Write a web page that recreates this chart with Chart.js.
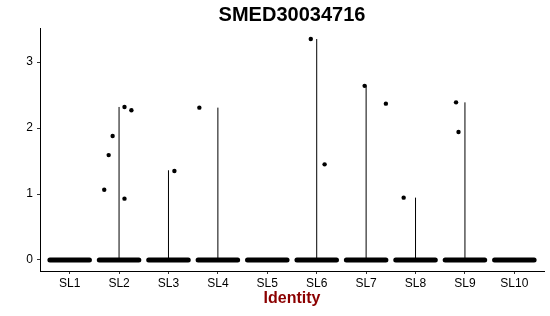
<!DOCTYPE html>
<html>
<head>
<meta charset="utf-8">
<script src="https://cdn.jsdelivr.net/npm/chart.js@4.4.1/dist/chart.umd.min.js"></script>
<style>
  html, body { margin: 0; padding: 0; background: #fff; }
  #wrap { width: 550px; height: 316px; }
</style>
</head>
<body>
<div id="wrap"><canvas id="vln"></canvas></div>
<script>
// Identity groups on the x axis
const identities = ['SL1', 'SL2', 'SL3', 'SL4', 'SL5', 'SL6', 'SL7', 'SL8', 'SL9', 'SL10'];
// Max expression per group (top of each collapsed violin)
const violinMax = [0, 2.32, 1.36, 2.31, 0, 3.35, 2.64, 0.945, 2.39, 0];
// Non-zero cells: group index (1-based), jitter offset, expression
const cellGroup  = [2, 2, 2, 2, 2, 2, 3, 4, 6, 6, 7, 7, 8, 9, 9];
const cellJitter = [-0.30, -0.21, -0.13, 0.11, 0.25, 0.11, 0.12, -0.375, -0.12, 0.16, -0.03, 0.40, -0.24, -0.18, -0.13];
const cellValue  = [1.065, 1.59, 1.88, 2.32, 2.27, 0.93, 1.35, 2.31, 3.35, 1.45, 2.64, 2.37, 0.945, 2.39, 1.94];
const yTicks = [0, 1, 2, 3];

const jitterWidth = 0.4;

const datasets = [];

// violins (with all mass at zero they collapse to a thin vertical line)
violinMax.forEach((m, i) => {
    if (m <= 0) return;
    datasets.push({
        type: 'line',
        data: [{x: i + 1, y: 0}, {x: i + 1, y: m}],
        borderColor: '#000',
        borderWidth: 1,
        pointRadius: 0,
        order: 3
    });
});

// the dense band of zero-valued cells
identities.forEach((name, i) => {
    datasets.push({
        type: 'line',
        data: [{x: i + 1 - jitterWidth, y: 0}, {x: i + 1 + jitterWidth, y: 0}],
        borderColor: '#000',
        borderWidth: 5,
        borderCapStyle: 'round',
        pointRadius: 0,
        order: 2
    });
});

// jittered non-zero cells
datasets.push({
    type: 'scatter',
    data: cellValue.map((v, k) => ({x: cellGroup[k] + cellJitter[k], y: v})),
    backgroundColor: '#000',
    borderWidth: 0,
    pointRadius: 2.2,
    order: 1
});

const ctx = document.getElementById('vln').getContext('2d');
const vlnChart = new Chart(ctx, {
    data: { datasets: datasets },
    options: {
        responsive: true,
        maintainAspectRatio: false,
        animation: false,
        layout: { padding: { left: 0, right: 6, top: 0, bottom: 0 } },
        plugins: {
            legend: { display: false },
            tooltip: { enabled: false },
            title: {
                display: true,
                text: 'SMED30034716',
                fullSize: false,
                color: '#000',
                font: { family: 'Liberation Sans, Arial, sans-serif', size: 20, weight: 'bold' },
                padding: { top: 3, bottom: 1 }
            }
        },
        scales: {
            x: {
                type: 'linear',
                min: 0.4,
                max: 10.6,
                afterBuildTicks: scale => {
                    scale.ticks = identities.map((n, i) => ({value: i + 1}));
                },
                afterFit: scale => { scale.height = 45; },
                ticks: {
                    color: '#000',
                    padding: 2,
                    maxRotation: 0,
                    autoSkip: false,
                    font: { family: 'Liberation Sans, Arial, sans-serif', size: 12 },
                    callback: v => identities[v - 1]
                },
                grid: { display: true, drawOnChartArea: false, drawTicks: true, tickLength: 3, color: '#333' },
                border: { display: true, color: '#000', width: 1 },
                title: {
                    display: true,
                    text: 'Identity',
                    color: '#8B0000',
                    font: { family: 'Liberation Sans, Arial, sans-serif', size: 16, weight: 'bold' },
                    padding: { top: 0, bottom: 8 }
                }
            },
            y: {
                type: 'linear',
                min: -0.1675,
                max: 3.5175,
                afterBuildTicks: scale => {
                    scale.ticks = yTicks.map(v => ({value: v}));
                },
                afterFit: scale => { scale.width = 40; },
                ticks: {
                    color: '#000',
                    padding: 4,
                    font: { family: 'Liberation Sans, Arial, sans-serif', size: 12 }
                },
                grid: { display: true, drawOnChartArea: false, drawTicks: true, tickLength: 3, color: '#333' },
                border: { display: true, color: '#000', width: 1 }
            }
        }
    }
});
</script>
</body>
</html>
